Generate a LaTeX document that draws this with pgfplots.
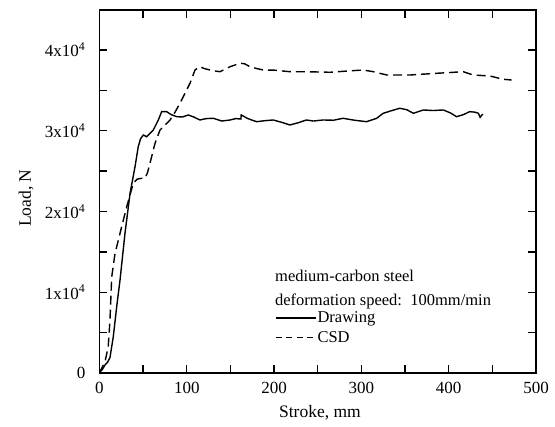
\documentclass[border=0pt]{standalone}
\usepackage{fontspec}
\setmainfont{Liberation Serif}
\usepackage{pgfplots}
\pgfplotsset{compat=1.18}
\usetikzlibrary{calc}

\begin{document}
\begin{tikzpicture}
\begin{axis}[
    name=ax,
    scale only axis, width=436.5bp, height=363bp,
    xmin=0, xmax=500, ymin=0, ymax=44950,
    xtick={0,100,...,500}, minor xtick={50,150,...,450},
    xticklabels={0,100,200,300,400,500},
    ytick={0,10000,20000,30000,40000}, minor ytick={5000,15000,25000,35000},
    yticklabels={0,1x10\textsuperscript{4},2x10\textsuperscript{4},3x10\textsuperscript{4},4x10\textsuperscript{4}},
    scaled ticks=false,
    tick align=inside, major tick length=8bp, minor tick length=8bp,
    axis line style={line width=1.8bp},
    every tick/.style={line width=1.3bp, black},
    ticklabel style={font=\fontsize{17bp}{20bp}\selectfont, inner sep=0pt},
    yticklabel style={xshift=-14bp},
    xticklabel style={yshift=-9bp},
    xlabel={Stroke, mm}, ylabel={Load, N},
    label style={font=\fontsize{17.5bp}{20bp}\selectfont},
    xlabel style={at={(axis description cs:0.505,-0.110)}, anchor=center},
    ylabel style={at={(axis description cs:-0.168,0.482)}, anchor=center},
    legend style={at={(axis description cs:0.402,0.172)}, anchor=north west,
        draw=none, fill=none, inner sep=0pt, row sep=5bp,
        font=\fontsize{16.5bp}{19bp}\selectfont,
        nodes={inner sep=1bp}},
    legend cell align=left,
    legend image code/.code={\draw[#1] (0bp,0bp) -- (40bp,0bp);},
]
% Drawing
\addplot[black, line width=1.4bp] coordinates {
 (0,0) (0.6,160) (3,400) (6.3,990) (9,1300) (12,1900) (15.8,4500) (19.7,8200)
 (23.5,11500) (29.2,17300) (35,22250) (40.7,25550) (44.4,28030) (47,29000)
 (50.2,29470) (54,29260) (58,29700) (61.6,30090) (67.4,31330) (71.2,32360)
 (77,32360) (82,32000) (88.4,31740) (95,31700) (101.7,31950) (108,31700)
 (115,31330) (122,31500) (130.4,31540) (140,31200) (149.5,31330) (156,31500)
 (162,31450) (162.3,31950) (165,31800) (169,31550) (175,31300) (180,31120)
 (190,31250) (199,31330) (210,31000) (218,30710) (228,31000) (237,31330)
 (245,31200) (256,31330) (268,31300) (279,31540) (292,31300) (306,31120)
 (317.5,31540) (325,32160) (335,32500) (344,32780) (352,32600) (359.5,32160)
 (371,32570) (382,32500) (394,32570) (402,32200) (409,31740) (417,32000)
 (424,32360) (430,32300) (434,32160) (436,31660) (439,32070)
};
\addlegendentry{Drawing}
% CSD
\addplot[black, line width=1.4bp, dash pattern=on 9bp off 5bp,
  legend image post style={dash pattern=on 6bp off 4.5bp}] coordinates {
 (0,0) (0.6,160) (3,700) (6.3,1400) (10,3260) (12,6560) (14,11900)
 (17.8,14820) (25.4,18120) (31.2,20590) (38.7,23490) (43,24000) (48.3,24110)
 (52.1,24110) (55,24800) (57.8,25970) (63.6,28440) (69.3,30090) (75,30700)
 (80.8,31330) (86,32200) (92.2,33400) (103.7,35880) (109.4,37520) (115,37930)
 (120,37700) (126.6,37520) (132,37400) (138,37310) (149.5,37930) (161,38350)
 (166,38300) (172.4,37930) (180,37700) (187.6,37520) (200,37500) (218,37310)
 (240,37300) (264,37240) (285,37400) (302,37520) (313.6,37310) (329,36900)
 (340,36900) (355.7,36900) (370,37000) (386,37110) (400,37200) (416.7,37310)
 (428,36900) (447,36780) (462.5,36370) (472,36280)
};
\addlegendentry{CSD}
\node[anchor=base west, inner sep=0pt, font=\fontsize{16.5bp}{19bp}\selectfont]
  at (axis description cs:0.402,0.2515) {medium-carbon steel};
\node[anchor=base west, inner sep=0pt, font=\fontsize{16.5bp}{19bp}\selectfont]
  at (axis description cs:0.402,0.1873) {deformation speed:\ \ 100mm/min};
\end{axis}
\pgfresetboundingbox
\path[use as bounding box] ($(ax.south west)+(-99.5bp,-54bp)$) rectangle ($(ax.south west)+(455.5bp,373bp)$);
\end{tikzpicture}
\end{document}
